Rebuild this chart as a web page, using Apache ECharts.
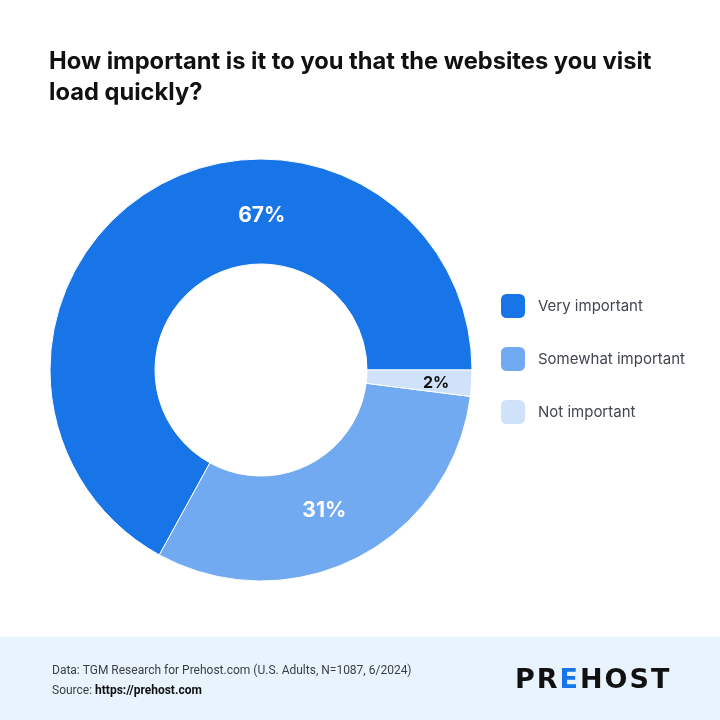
<!DOCTYPE html>
<html>
<head>
<meta charset="utf-8">
<script src="https://cdn.jsdelivr.net/npm/echarts@6/dist/echarts.min.js"></script>
<style>html,body{margin:0;padding:0;background:#fff}#c{width:720px;height:720px}</style>
</head>
<body>
<div id="c"></div>
<script>
const categories = ['Very important', 'Somewhat important', 'Not important'];
const values = [67, 31, 2];
const colors = ['#1775E8', '#72AAF2', '#CFE2FA'];
const titleText = 'How important is it to you that the websites you visit\nload quickly?';
const sourceLine1 = 'Data: TGM Research for Prehost.com (U.S. Adults, N=1087, 6/2024)';
const sourceLabel = 'Source: ';
const sourceUrl = 'https://prehost.com';
const logoLetters = ['P', 'R', 'E', 'H', 'O', 'S', 'T'];

const chart = echarts.init(document.getElementById('c'), null, {renderer: 'canvas'});
const labelStyles = [
  {color: '#fff', fontSize: 21, offset: [83, -15]},
  {color: '#fff', fontSize: 21, offset: [-10, -3]},
  {color: '#111', fontSize: 16, offset: [14, 3]}
];
const logoRich = {};
logoLetters.forEach((l, i) => {
  logoRich['l' + i] = {fontFamily: 'DejaVu Sans', fontSize: 27, fontWeight: 'bold',
    fill: l === 'E' ? '#1775E8' : '#111', padding: [0, 1, 0, 1]};
});
chart.setOption({
  animation: false,
  title: {
    text: titleText,
    left: 49, top: 46, padding: 0,
    textStyle: {fontFamily: 'Inter', fontWeight: 'bold', fontSize: 23.7, color: '#111', lineHeight: 31}
  },
  legend: {
    orient: 'vertical',
    left: 494, top: 287,
    itemWidth: 26, itemHeight: 26, itemGap: 25,
    icon: 'roundRect',
    textStyle: {fontFamily: 'Inter', fontSize: 15, color: '#41464e', padding: [0, 0, 0, 7], lineHeight: 26},
    data: categories
  },
  color: colors,
  series: [{
    type: 'pie',
    center: [261, 370],
    radius: [106, 211],
    startAngle: 0,
    clockwise: false,
    itemStyle: {borderColor: '#fff', borderWidth: 1},
    label: {position: 'inside', fontFamily: 'Inter', fontWeight: 'bold', formatter: '{c}%'},
    labelLine: {show: false},
    data: categories.map((n, i) => ({
      name: n, value: values[i],
      label: labelStyles[i]
    }))
  }],
  graphic: [
    {type: 'rect', left: 0, top: 637, shape: {width: 720, height: 83}, style: {fill: '#E8F3FE'}, z: -1},
    {type: 'text', left: 52, top: 665, style: {text: sourceLine1, fontFamily: 'Roboto', fontSize: 12, fill: '#3a3f47'}},
    {type: 'text', left: 52, top: 685, style: {
      text: '{a|' + sourceLabel + '}{b|' + sourceUrl + '}',
      rich: {a: {fontFamily: 'Roboto', fontSize: 12, fill: '#3a3f47'}, b: {fontFamily: 'Roboto', fontSize: 12, fontWeight: 'bold', fill: '#111'}}
    }},
    {type: 'text', left: 515, top: 667, style: {
      text: logoLetters.map((l, i) => '{l' + i + '|' + l + '}').join(''),
      rich: logoRich
    }}
  ]
});
</script>
</body>
</html>
